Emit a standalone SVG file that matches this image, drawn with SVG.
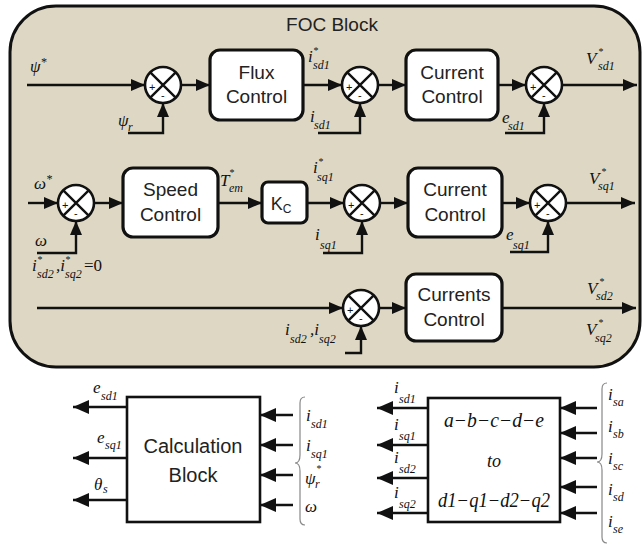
<svg xmlns="http://www.w3.org/2000/svg" width="643" height="544" viewBox="0 0 643 544">
<style>
.bg{fill:#ddd7c3;stroke:#111;stroke-width:3}
.blk{fill:#fff;stroke:#111;stroke-width:3.2}
.sq{fill:#fff;stroke:#111;stroke-width:2.6}
.ln{fill:none;stroke:#111;stroke-width:2.4}
.arr{fill:none;stroke:#111;stroke-width:2.4;marker-end:url(#ah)}
.arrb{fill:none;stroke:#111;stroke-width:2.6;marker-end:url(#ahb)}
.sgn{font-family:"Liberation Sans",Arial,sans-serif;font-size:11px;fill:#111}
.t{font-family:"Liberation Sans",Arial,sans-serif;font-size:19px;fill:#222;text-anchor:middle}
.tt{font-family:"Liberation Sans",Arial,sans-serif;font-size:19px;fill:#222;text-anchor:middle}
.l{font-family:"Liberation Serif","Times New Roman",serif;font-style:italic;font-size:17px;fill:#111}
.s{font-size:12px}
.st{font-size:10px}
.m{font-family:"Liberation Serif","Times New Roman",serif;font-style:italic;font-size:20px;fill:#111;text-anchor:middle}
</style>
<defs>
<marker id="ah" markerUnits="userSpaceOnUse" markerWidth="14" markerHeight="12" refX="14" refY="6" orient="auto"><path d="M0,0 L14,6 L0,12 z" fill="#111"/></marker>
<marker id="ahb" markerUnits="userSpaceOnUse" markerWidth="16" markerHeight="14" refX="16" refY="7" orient="auto"><path d="M0,0 L16,7 L0,14 z" fill="#111"/></marker>
<g id="sumsym"><circle r="18" cx="0" cy="0" fill="#fff" stroke="#111" stroke-width="2.6"/><path d="M-12.7,-12.7 L12.7,12.7 M12.7,-12.7 L-12.7,12.7" fill="none" stroke="#111" stroke-width="2.4"/></g>
</defs>

<g id="foc">
<rect class="bg" x="10" y="6" width="630" height="361" rx="46" ry="46"/>
<text class="tt" x="332" y="31">FOC Block</text>
</g>

<g id="connectors">
<!-- row 1 -->
<path class="arr" d="M27,85 H145"/>
<path class="arr" d="M181,85 H210"/>
<path class="arr" d="M303,85 H342"/>
<path class="arr" d="M378,85 H406"/>
<path class="arr" d="M497,85 H526"/>
<path class="arr" d="M562,85 H637"/>
<path class="arr" d="M128,133 H163 V103"/>
<path class="arr" d="M318,133 H360 V103"/>
<path class="arr" d="M505,133 H544 V103"/>
<!-- row 2 -->
<path class="arr" d="M28,203 H58"/>
<path class="arr" d="M94,203 H123"/>
<path class="arr" d="M218,203 H262"/>
<path class="arr" d="M307,203 H344"/>
<path class="arr" d="M380,203 H408"/>
<path class="arr" d="M502,203 H530"/>
<path class="arr" d="M566,203 H635"/>
<path class="arr" d="M37,253 H76 V221"/>
<path class="arr" d="M323,253 H362 V221"/>
<path class="arr" d="M510,252 H548 V221"/>
<!-- row 3 -->
<path class="arr" d="M37,308 H343"/>
<path class="arr" d="M379,308 H406"/>
<path class="arr" d="M502,308 H636"/>
<path class="arr" d="M345,353 H361 V326"/>
<!-- calculation block -->
<path class="arrb" d="M127,407 H73"/>
<path class="arrb" d="M127,458 H73"/>
<path class="arrb" d="M127,500 H73"/>
<path class="arrb" d="M293,415 H260"/>
<path class="arrb" d="M293,445 H260"/>
<path class="arrb" d="M293,475 H260"/>
<path class="arrb" d="M293,505 H260"/>
<!-- transform block -->
<path class="arrb" d="M428,408 H377"/>
<path class="arrb" d="M428,445 H377"/>
<path class="arrb" d="M428,478 H377"/>
<path class="arrb" d="M428,513 H377"/>
<path class="arrb" d="M597,408 H560"/>
<path class="arrb" d="M597,433 H560"/>
<path class="arrb" d="M597,458 H560"/>
<path class="arrb" d="M597,487 H560"/>
<path class="arrb" d="M597,513 H560"/>
</g>

<!-- summing junctions -->
<g id="sum11" transform="translate(163,85)"><use href="#sumsym"/><text class="sgn" x="-14" y="6">+</text><text class="sgn" x="-2" y="14">-</text></g>
<g id="sum12" transform="translate(360,85)"><use href="#sumsym"/><text class="sgn" x="-14" y="6">+</text><text class="sgn" x="-2" y="14">-</text></g>
<g id="sum13" transform="translate(544,85)"><use href="#sumsym"/><text class="sgn" x="-14" y="6">+</text><text class="sgn" x="-2" y="14">-</text></g>
<g id="sum21" transform="translate(76,203)"><use href="#sumsym"/><text class="sgn" x="-14" y="6">+</text><text class="sgn" x="-2" y="14">-</text></g>
<g id="sum22" transform="translate(362,203)"><use href="#sumsym"/><text class="sgn" x="-14" y="6">+</text><text class="sgn" x="-2" y="14">-</text></g>
<g id="sum23" transform="translate(548,203)"><use href="#sumsym"/><text class="sgn" x="-14" y="6">+</text><text class="sgn" x="-2" y="14">-</text></g>
<g id="sum31" transform="translate(361,308)"><use href="#sumsym"/><text class="sgn" x="-14" y="6">+</text><text class="sgn" x="-2" y="14">-</text></g>

<!-- blocks -->
<g id="flux"><rect class="blk" x="210" y="50" width="93" height="70" rx="10"/><text class="t" x="256.5" y="79">Flux</text><text class="t" x="256.5" y="103">Control</text></g>
<g id="cc1"><rect class="blk" x="406" y="50" width="92" height="70" rx="10"/><text class="t" x="452" y="79">Current</text><text class="t" x="452" y="103">Control</text></g>
<g id="speed"><rect class="blk" x="123" y="168" width="95" height="69" rx="10"/><text class="t" x="170.5" y="196">Speed</text><text class="t" x="170.5" y="221">Control</text></g>
<g id="kc"><rect class="blk" x="262" y="182" width="45" height="41" rx="6"/><text class="t" x="281" y="210" style="font-size:18px">K<tspan style="font-size:12px" dy="3">C</tspan></text></g>
<g id="cc2"><rect class="blk" x="408" y="168" width="94" height="69" rx="10"/><text class="t" x="455" y="196">Current</text><text class="t" x="455" y="221">Control</text></g>
<g id="cc3"><rect class="blk" x="406" y="274" width="96" height="67" rx="10"/><text class="t" x="454" y="301">Currents</text><text class="t" x="454" y="326">Control</text></g>

<g id="calc"><rect class="sq" x="127" y="397" width="133" height="125"/><text class="t" x="193" y="453" style="font-size:20px">Calculation</text><text class="t" x="193" y="482" style="font-size:20px">Block</text></g>
<g id="transform"><rect class="sq" x="428" y="398" width="132" height="124"/><text class="m" x="494" y="427" textLength="100" lengthAdjust="spacingAndGlyphs">a−b−c−d−e</text><text class="m" x="494" y="467" style="font-size:18px">to</text><text class="m" x="494" y="507" textLength="112" lengthAdjust="spacingAndGlyphs">d1−q1−d2−q2</text></g>

<!-- braces -->
<g id="braces">
<path class="ln" style="stroke:#888;stroke-width:1.2" d="M305,397 Q300,397 300,403 V455 Q300,463 295,463 Q300,463 300,471 V519 Q300,525 305,525"/>
<path class="ln" style="stroke:#888;stroke-width:1.2" d="M607,383 Q602,383 602,389 V454 Q602,462 597,462 Q602,462 602,470 V537 Q602,543 607,543"/>
</g>

<g id="labels">
<!-- row 1 -->
<text class="l" x="30" y="72">ψ<tspan class="s" dy="-6">*</tspan></text>
<text class="l" x="118" y="126">ψ</text><text class="l s" x="128" y="131">r</text>
<text class="l" x="308" y="62">i</text><text class="l st" x="313" y="54">*</text><text class="l s" x="313" y="69">sd1</text>
<text class="l" x="310" y="122">i</text><text class="l s" x="314" y="129">sd1</text>
<text class="l" x="586" y="64">V</text><text class="l st" x="598" y="55">*</text><text class="l s" x="598" y="70">sd1</text>
<text class="l" x="502" y="123">e</text><text class="l s" x="508" y="130">sd1</text>
<!-- row 2 -->
<text class="l" x="34" y="189">ω<tspan class="s" dy="-6">*</tspan></text>
<text class="l" x="35" y="246">ω</text>
<text class="l" x="220" y="186">T</text><text class="l st" x="229" y="176">*</text><text class="l s" x="229" y="192">em</text>
<text class="l" x="313" y="173">i</text><text class="l st" x="318" y="165">*</text><text class="l s" x="317" y="181">sq1</text>
<text class="l" x="315" y="240">i</text><text class="l s" x="320" y="249">sq1</text>
<text class="l" x="589" y="184">V</text><text class="l st" x="601" y="175">*</text><text class="l s" x="598" y="190">sq1</text>
<text class="l" x="506" y="240">e</text><text class="l s" x="513" y="249">sq1</text>
<!-- row 3 -->
<text class="l" x="32" y="271">i</text><text class="l st" x="37" y="263">*</text><text class="l s" x="37" y="278">sd2</text><text class="l" x="56" y="271">,i</text><text class="l st" x="65" y="263">*</text><text class="l s" x="65" y="278">sq2</text><text class="l" x="84" y="271" style="font-style:normal">=0</text>
<text class="l" x="285" y="335">i</text><text class="l s" x="290" y="343">sd2</text><text class="l" x="310" y="335">,i</text><text class="l s" x="319" y="343">sq2</text>
<text class="l" x="587" y="294">V</text><text class="l st" x="599" y="285">*</text><text class="l s" x="596" y="300">sd2</text>
<text class="l" x="586" y="335">V</text><text class="l st" x="598" y="326">*</text><text class="l s" x="595" y="342">sq2</text>
<!-- calc block labels -->
<text class="l" x="93" y="393">e</text><text class="l s" x="101" y="400">sd1</text>
<text class="l" x="97" y="443">e</text><text class="l s" x="105" y="449">sq1</text>
<text class="l" x="94" y="490">θ</text><text class="l s" x="103" y="493">s</text>
<text class="l" x="306" y="421">i</text><text class="l s" x="311" y="428">sd1</text>
<text class="l" x="306" y="451">i</text><text class="l s" x="311" y="458">sq1</text>
<text class="l" x="305" y="484">ψ</text><text class="l st" x="316" y="472">*</text><text class="l s" x="315" y="488">r</text>
<text class="l" x="305" y="512">ω</text>
<!-- transform labels -->
<text class="l" x="394" y="393">i</text><text class="l s" x="399" y="403">sd1</text>
<text class="l" x="394" y="430">i</text><text class="l s" x="399" y="440">sq1</text>
<text class="l" x="394" y="463">i</text><text class="l s" x="399" y="473">sd2</text>
<text class="l" x="394" y="498">i</text><text class="l s" x="399" y="508">sq2</text>
<text class="l" x="608" y="400">i</text><text class="l s" x="613" y="406">sa</text>
<text class="l" x="608" y="432">i</text><text class="l s" x="613" y="438">sb</text>
<text class="l" x="608" y="464">i</text><text class="l s" x="613" y="470">sc</text>
<text class="l" x="608" y="495">i</text><text class="l s" x="613" y="501">sd</text>
<text class="l" x="608" y="527">i</text><text class="l s" x="613" y="533">se</text>
</g>
</svg>
